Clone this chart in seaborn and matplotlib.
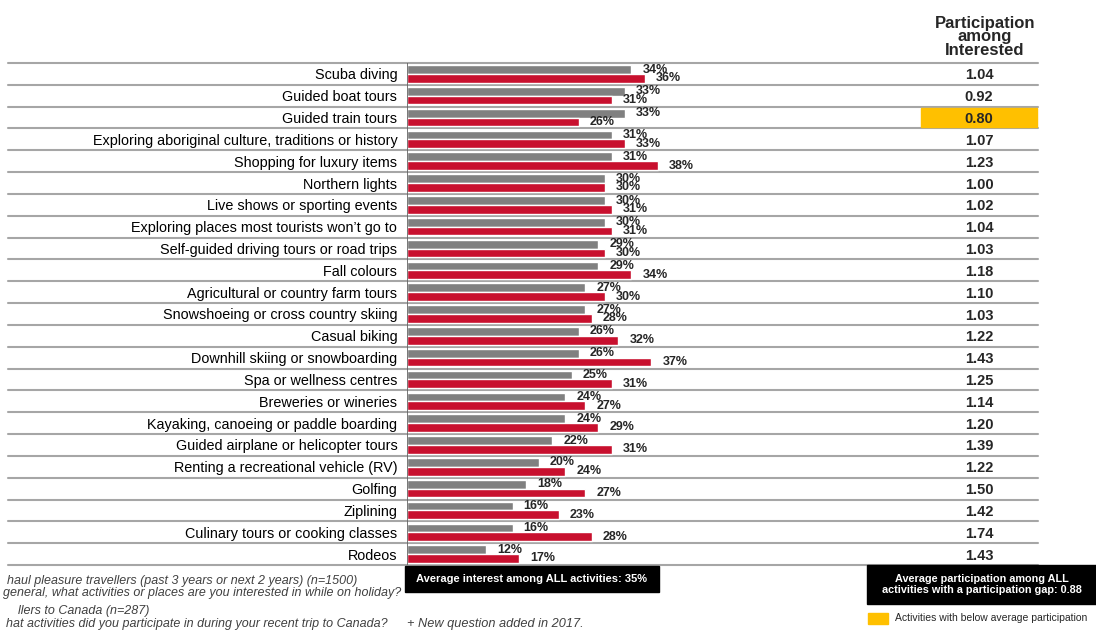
import numpy as np
import pandas as pd
import matplotlib
matplotlib.use("Agg")
import matplotlib.pyplot as plt
import matplotlib.transforms as mtransforms
from matplotlib.patches import Rectangle
import seaborn as sns

activities = [
    "Scuba diving",
    "Guided boat tours",
    "Guided train tours",
    "Exploring aboriginal culture, traditions or history",
    "Shopping for luxury items",
    "Northern lights",
    "Live shows or sporting events",
    "Exploring places most tourists won\u2019t go to",
    "Self-guided driving tours or road trips",
    "Fall colours",
    "Agricultural or country farm tours",
    "Snowshoeing or cross country skiing",
    "Casual biking",
    "Downhill skiing or snowboarding",
    "Spa or wellness centres",
    "Breweries or wineries",
    "Kayaking, canoeing or paddle boarding",
    "Guided airplane or helicopter tours",
    "Renting a recreational vehicle (RV)",
    "Golfing",
    "Ziplining",
    "Culinary tours or cooking classes",
    "Rodeos",
]
interested = [34, 33, 33, 31, 31, 30, 30, 30, 29, 29, 27, 27, 26, 26, 25, 24, 24, 22, 20, 18, 16, 16, 12]
participated = [36, 31, 26, 33, 38, 30, 31, 31, 30, 34, 30, 28, 32, 37, 31, 27, 29, 31, 24, 27, 23, 28, 17]
ratio = [1.04, 0.92, 0.80, 1.07, 1.23, 1.00, 1.02, 1.04, 1.03, 1.18, 1.10, 1.03, 1.22,
         1.43, 1.25, 1.14, 1.20, 1.39, 1.22, 1.50, 1.42, 1.74, 1.43]
avg_interest = 35
avg_participation = 0.88

GREY = "#808080"
RED = "#C8102E"
GOLD = "#FFC000"
RULE = "#A6A6A6"

sns.set_style("white")
plt.rcParams["font.family"] = ["Liberation Sans", "DejaVu Sans"]

df = pd.DataFrame({
    "activity": activities * 2,
    "value": interested + participated,
    "series": ["Interested"] * len(activities) + ["Participated"] * len(activities),
})

W, H = 1096, 630
fig = plt.figure(figsize=(W / 100, H / 100), dpi=100)

# plot area in pixel terms
x0, x1 = 407, 907
y_top, y_bot = 63, 565
ax = fig.add_axes([x0 / W, 1 - y_bot / H, (x1 - x0) / W, (y_bot - y_top) / H])

sns.barplot(data=df, y="activity", x="value", hue="series", orient="h",
            palette=[GREY, RED], width=0.8, saturation=1, legend=False, ax=ax)

px_per_pct = 6.6
ax.set_xlim(0, (x1 - x0) / px_per_pct)
n = len(activities)
ax.set_ylim(n - 0.5, -0.5)
ax.set_xlabel("")
ax.set_ylabel("")
ax.set_xticks([])
for s in ax.spines.values():
    s.set_visible(False)
ax.tick_params(axis="y", length=0, pad=7, labelsize=10.4, labelcolor="black")

for cont in ax.containers:
    ax.bar_label(cont, fmt="%g%%", padding=8, fontsize=9, fontweight="bold")

def frac(px):
    return (px - x0) / (x1 - x0)

# row separators across the whole table
for b in np.arange(-0.5, n, 1.0):
    ax.axhline(b, xmin=frac(8), xmax=frac(1038), color=RULE, lw=1.5,
               clip_on=False, zorder=0)
ax.axvline(0, color="#606060", lw=1.2, zorder=3)

trans = mtransforms.blended_transform_factory(ax.transAxes, ax.transData)
for i, r in enumerate(ratio):
    if r < avg_participation:
        ax.add_patch(Rectangle((frac(921), i - 0.45), frac(1037) - frac(921), 0.9,
                               transform=trans, color=GOLD, clip_on=False, zorder=1))
    ax.text(frac(979), i, f"{r:.2f}", transform=trans, ha="center", va="center_baseline",
            fontsize=10.5, fontweight="bold", clip_on=False, zorder=4)

fig.text(985 / W, 1 - 37 / H, "Participation\namong\nInterested", ha="center", va="center",
         fontsize=12, fontweight="bold", linespacing=0.88)

# summary boxes
def box(xa, xb, ya, yb, text, size):
    fig.add_artist(Rectangle((xa / W, 1 - yb / H), (xb - xa) / W, (yb - ya) / H,
                             transform=fig.transFigure, color="black"))
    fig.text((xa + xb) / 2 / W, 1 - (ya + yb) / 2 / H, text, ha="center", va="center",
             color="white", fontsize=size, fontweight="bold", linespacing=1.2)

box(405, 659, 566, 592, f"Average interest among ALL activities: {avg_interest}%", 8)
box(867, 1096, 565, 604, "Average participation among ALL\n"
    f"activities with a participation gap: {avg_participation:.2f}", 7.8)

fig.add_artist(Rectangle((868 / W, 1 - 624 / H), 20 / W, 11 / H,
                         transform=fig.transFigure, color=GOLD))
fig.text(895 / W, 1 - 618 / H, "Activities with below average participation",
         ha="left", va="center", fontsize=7.5)

# footnotes
foot = dict(fontsize=9.0, style="italic", color="#404040", va="center", ha="right")
fig.text(357 / W, 1 - 581 / H, "haul pleasure travellers (past 3 years or next 2 years) (n=1500)", **foot)
fig.text(401 / W, 1 - 593 / H, "general, what activities or places are you interested in while on holiday?", **foot)
fig.text(149 / W, 1 - 611 / H, "llers to Canada (n=287)", **foot)
fig.text(388 / W, 1 - 624 / H, "hat activities did you participate in during your recent trip to Canada?", **foot)
fig.text(407 / W, 1 - 624 / H, "+ New question added in 2017.", fontsize=9.2, style="italic",
         color="#404040", va="center", ha="left")

fig.savefig("out.png", dpi=100)
